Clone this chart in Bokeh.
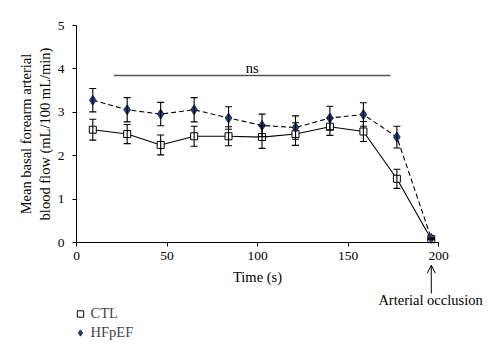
from bokeh.plotting import figure
from bokeh.models import Range1d, Whisker, ColumnDataSource, Label, Arrow, OpenHead, Legend, LegendItem, FixedTicker
from bokeh.embed import file_html
from bokeh.resources import INLINE

time_s = [9, 28, 46.5, 65, 84, 102.5, 121, 140, 158.5, 177, 196]
ctl = [2.60, 2.50, 2.25, 2.45, 2.45, 2.43, 2.50, 2.67, 2.56, 1.47, 0.08]
ctl_err = [0.24, 0.22, 0.23, 0.23, 0.22, 0.26, 0.26, 0.20, 0.23, 0.22, 0.0]
hfpef = [3.28, 3.06, 2.96, 3.06, 2.87, 2.70, 2.65, 2.87, 2.95, 2.43, 0.10]
hfpef_err = [0.27, 0.28, 0.27, 0.28, 0.26, 0.26, 0.27, 0.27, 0.27, 0.25, 0.0]
x_ticks = [0, 50, 100, 150, 200]
y_ticks = [0, 1, 2, 3, 4, 5]
ns_span = [20.6, 173.5]
ns_y = 3.85

FONT = "Liberation Serif"
TICK_FS = "13.5px"
LAB_FS = "14.5px"

src_c = ColumnDataSource(dict(x=time_s, y=ctl,
                              lo=[a - b for a, b in zip(ctl, ctl_err)],
                              hi=[a + b for a, b in zip(ctl, ctl_err)]))
src_h = ColumnDataSource(dict(x=time_s, y=hfpef,
                              lo=[a - b for a, b in zip(hfpef, hfpef_err)],
                              hi=[a + b for a, b in zip(hfpef, hfpef_err)]))

# frame covers the whole canvas; axes are pinned at x=0 / y=0
p = figure(width=484, height=342, output_backend="svg", toolbar_location=None,
           x_range=Range1d(-41.99, 225.41), y_range=Range1d(-2.30, 5.576),
           min_border_left=0, min_border_right=0, min_border_top=0, min_border_bottom=0)
p.outline_line_color = None
p.grid.visible = False
p.background_fill_color = "white"

for ax in (p.xaxis[0], p.yaxis[0]):
    ax.axis_line_color = "black"
    ax.major_tick_line_color = "black"
    ax.minor_tick_line_color = None
    ax.major_tick_in = 0
    ax.major_tick_out = 4
    ax.major_label_text_font = FONT
    ax.major_label_text_font_size = TICK_FS
    ax.major_label_text_color = "black"
    ax.axis_label_text_font = FONT
    ax.axis_label_text_font_size = LAB_FS
    ax.axis_label_text_font_style = "normal"
    ax.axis_label_text_color = "black"

p.xaxis.fixed_location = 0
p.yaxis.fixed_location = 0
p.xaxis.bounds = (0, 200)
p.yaxis.bounds = (0, 5)
p.xaxis.ticker = FixedTicker(ticks=x_ticks)
p.yaxis.ticker = FixedTicker(ticks=y_ticks)
p.xaxis.axis_label = "Time (s)"
p.xaxis.major_label_standoff = 5
p.xaxis.axis_label_standoff = 6
p.yaxis.axis_label = "Mean basal forearm arterial\nblood flow (mL/100 mL/min)"
p.yaxis.major_label_standoff = 8
p.yaxis.axis_label_standoff = 2

# error bars
for src in (src_c, src_h):
    w = Whisker(source=src, base="x", lower="lo", upper="hi",
                line_color="black", line_width=1.1, level="glyph")
    for h in (w.upper_head, w.lower_head):
        h.size = 7
        h.line_color = "black"
        h.line_width = 1.1
    p.add_layout(w)

p.line("x", "y", source=src_h, line_color="black", line_width=1.1, line_dash="5 3")
p.line("x", "y", source=src_c, line_color="black", line_width=1.1)
r_c = p.scatter("x", "y", source=src_c, marker="square", size=7,
                fill_color="white", line_color="black", line_width=1)
r_h = p.scatter("x", "y", source=src_h, marker="diamond", size=10,
                fill_color="#1f3f96", line_color="#101830", line_width=0.8)

# ns bar
p.segment(x0=[ns_span[0]], y0=[ns_y], x1=[ns_span[1]], y1=[ns_y],
          line_color="#555555", line_width=1.5)
p.add_layout(Label(x=sum(ns_span) / 2, y=4.02, text="ns", text_font=FONT,
                   text_font_size=LAB_FS, text_align="center", text_baseline="alphabetic",
                   text_color="black"))

# arterial occlusion arrow
p.add_layout(Arrow(x_start=196, y_start=-1.17, x_end=196, y_end=-0.52,
                   line_color="black", line_width=1,
                   end=OpenHead(size=8, line_color="black", line_width=1)))
p.add_layout(Label(x=195.6, y=-1.31, text="Arterial occlusion", text_font=FONT,
                   text_font_size=LAB_FS, text_align="center", text_baseline="middle",
                   text_color="black"))

legend = Legend(items=[LegendItem(label="CTL", renderers=[r_c]),
                       LegendItem(label="HFpEF", renderers=[r_h])],
                location=(71.5, 0.5), orientation="vertical",
                label_text_font=FONT, label_text_font_size=LAB_FS,
                glyph_width=16, glyph_height=19, label_height=19,
                label_standoff=3, spacing=0, padding=0, margin=0,
                border_line_color=None, background_fill_alpha=0)
p.add_layout(legend)

open("out.html", "w").write(file_html(p, INLINE))
